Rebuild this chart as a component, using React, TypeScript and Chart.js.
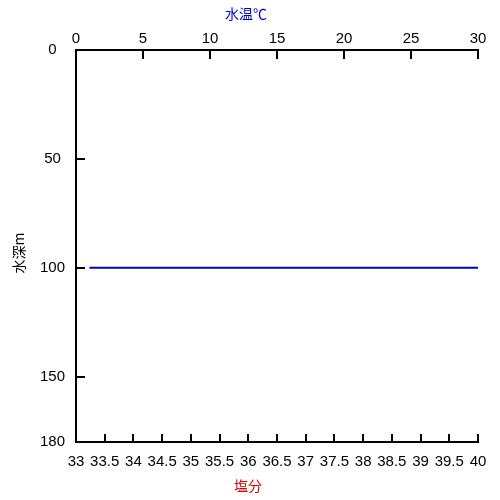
import React, { useEffect, useRef } from "react";
import { Chart, registerables } from "chart.js";

Chart.register(...registerables);

// Profile data: temperature (top axis) against depth (left axis)
const temperature = [1, 30];
const depth = [100, 100];

// Axis ranges and tick values
const tempRange = [0, 30];
const tempStep = 5;
const salinityRange = [33, 40];
const salinityStep = 0.5;
const depthTicks = [0, 50, 100, 150, 180];

// Axis titles
const tempTitle = "水温℃";
const salinityTitle = "塩分";
const depthTitle = "水深m";

const tickFont = { family: "'Liberation Sans', Arial, sans-serif", size: 15 };
const titleFont = "14px 'Noto Sans CJK JP', 'Liberation Sans', sans-serif";

// Draws short inward-pointing tick marks on each axis.
const inwardTicks = {
  id: "inwardTicks",
  afterDraw(chart: any) {
    const { ctx, chartArea } = chart;
    ctx.save();
    ctx.strokeStyle = "#000";
    ctx.lineWidth = 2;
    ctx.beginPath();
    const top = chart.scales.x;
    top.ticks.forEach((_t: any, i: number) => {
      const px = Math.round(top.getPixelForTick(i));
      ctx.moveTo(px, chartArea.top);
      ctx.lineTo(px, chartArea.top + 9);
    });
    const bottom = chart.scales.x2;
    bottom.ticks.forEach((_t: any, i: number) => {
      const px = Math.round(bottom.getPixelForTick(i));
      ctx.moveTo(px, chartArea.bottom);
      ctx.lineTo(px, chartArea.bottom - 8);
    });
    const left = chart.scales.y;
    left.ticks.forEach((_t: any, i: number) => {
      const py = Math.round(left.getPixelForTick(i));
      ctx.moveTo(chartArea.left, py);
      ctx.lineTo(chartArea.left + 9, py);
    });
    ctx.stroke();
    ctx.restore();
  },
};

// Axis titles, placed around the plot area.
const axisTitles = {
  id: "axisTitles",
  afterDraw(chart: any) {
    const { ctx, chartArea, width, height } = chart;
    ctx.save();
    ctx.font = titleFont;
    ctx.textAlign = "center";
    ctx.textBaseline = "middle";

    ctx.fillStyle = "#0000cc";
    ctx.fillText(tempTitle, width / 2 - 4, 14);

    ctx.fillStyle = "#dd0000";
    ctx.fillText(salinityTitle, width / 2 - 2, height - 14);

    ctx.fillStyle = "#000";
    ctx.translate(19, (chartArea.top + chartArea.bottom) / 2 + 7);
    ctx.rotate(-Math.PI / 2);
    ctx.fillText(depthTitle, 0, 0);
    ctx.restore();
  },
};

export default function App() {
  const canvasRef = useRef<HTMLCanvasElement | null>(null);

  useEffect(() => {
    if (!canvasRef.current) return;
    const chart = new Chart(canvasRef.current, {
      type: "line",
      data: {
        datasets: [
          {
            label: "水温",
            data: temperature.map((t, i) => ({ x: t, y: depth[i] })),
            xAxisID: "x",
            yAxisID: "y",
            borderColor: "#0000cc",
            borderWidth: 2,
            pointRadius: 0,
            fill: false,
          },
        ],
      },
      options: {
        animation: false,
        responsive: false,
        maintainAspectRatio: false,
        layout: { padding: { left: 0, right: 22, top: 0, bottom: 0 } },
        plugins: { legend: { display: false }, tooltip: { enabled: false } },
        scales: {
          x: {
            type: "linear",
            position: "top",
            min: tempRange[0],
            max: tempRange[1],
            afterFit: (s: any) => {
              s.height = 50;
            },
            ticks: {
              stepSize: tempStep,
              color: "#000",
              font: tickFont,
              padding: 2,
              maxRotation: 0,
              autoSkip: false,
            },
            grid: { drawOnChartArea: false, drawTicks: false },
            border: { display: true, color: "#000", width: 2 },
          },
          x2: {
            type: "linear",
            position: "bottom",
            min: salinityRange[0],
            max: salinityRange[1],
            afterFit: (s: any) => {
              s.height = 58;
            },
            ticks: {
              stepSize: salinityStep,
              color: "#000",
              font: tickFont,
              padding: 11,
              maxRotation: 0,
              autoSkip: false,
              callback: (v: any) => String(v),
            },
            grid: { drawOnChartArea: false, drawTicks: false },
            border: { display: true, color: "#000", width: 2 },
          },
          y: {
            type: "linear",
            position: "left",
            reverse: true,
            min: depthTicks[0],
            max: depthTicks[depthTicks.length - 1],
            afterFit: (s: any) => {
              s.width = 76;
            },
            afterBuildTicks: (s: any) => {
              s.ticks = depthTicks.map((v) => ({ value: v }));
            },
            ticks: {
              color: "#000",
              font: tickFont,
              padding: 11,
              crossAlign: "center",
              autoSkip: false,
            },
            grid: { drawOnChartArea: false, drawTicks: false },
            border: { display: true, color: "#000", width: 2 },
          },
        },
      },
      plugins: [inwardTicks, axisTitles],
    });
    return () => chart.destroy();
  }, []);

  return (
    <div style={{ position: "absolute", left: 0, top: 0, width: 500, height: 500, background: "#fff" }}>
      <canvas ref={canvasRef} width={500} height={500} />
    </div>
  );
}
